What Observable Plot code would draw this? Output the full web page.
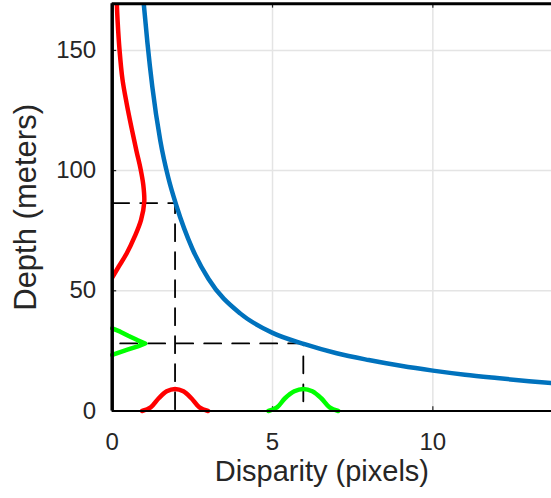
<!DOCTYPE html>
<html>
<head>
<meta charset="utf-8">
<script src="https://cdn.jsdelivr.net/npm/d3@7"></script>
<script src="https://cdn.jsdelivr.net/npm/@observablehq/plot@0.6"></script>
<style>
  html, body { margin: 0; padding: 0; background: #fff; }
</style>
</head>
<body>
<div id="chart"></div>
<script>
// Axis ticks
const xTicks = [0, 5, 10];
const yTicks = [0, 50, 100, 150];
const xLabel = "Disparity (pixels)";
const yLabel = "Depth (meters)";

// Blue depth-vs-disparity curve
const curveD = [0.98, 1.1, 1.25, 1.5, 1.75, 2, 2.5, 3, 4, 5, 6, 7, 8, 9, 10, 11, 12, 13, 13.7];
const curveZ = [170, 153, 135, 112.5, 97, 85.5, 67.5, 55, 40.5, 32.5, 27.8, 24, 21.2, 18.8, 16.8, 15.1, 13.7, 12.4, 11.6];

// Disparity distributions on the x axis (red around 2, green around 6)
const redBottomD = [0.93, 1.2, 1.45, 1.7, 1.96, 2.22, 2.47, 2.72, 2.99];
const redBottomP = [0, 1.5, 5.3, 8.2, 9.2, 8.2, 5.3, 1.5, 0];
const greenBottomD = [4.87, 5.14, 5.39, 5.68, 5.96, 6.24, 6.52, 6.78, 7.05];
const greenBottomP = [0, 1.5, 5.3, 8.2, 9.2, 8.2, 5.3, 1.5, 0];

// Depth distributions on the y axis
const redLeftZ = [55.5, 60, 65.5, 72.5, 79.5, 87, 94, 101, 108, 118, 128, 138, 150, 162, 171];
const redLeftP = [0, 0.2, 0.45, 0.7, 0.9, 1.0, 0.97, 0.88, 0.76, 0.6, 0.45, 0.32, 0.23, 0.17, 0.14];
const greenLeftZ = [23.3, 24.5, 25.6, 26.9, 28.1, 29.4, 31.3, 33.0, 34.4];
const greenLeftP = [0, 0.25, 0.5, 0.8, 1.03, 0.8, 0.5, 0.25, 0];

// Dashed guide lines: [disparity, depth]
const guides = [
  {d: 1.96, z: 86.5, offset: 0},
  {d: 5.96, z: 28.1, offset: 20}
];

const zip = (xs, ys) => xs.map((x, i) => ({x, y: ys[i]}));
const blue = zip(curveD, curveZ);
const redB = zip(redBottomD, redBottomP);
const greenB = zip(greenBottomD, greenBottomP);
const redL = zip(redLeftP, redLeftZ);
const greenL = zip(greenLeftP, greenLeftZ);

const font = "'Liberation Sans', Arial, Helvetica, sans-serif";
const txt = "#262626";

const plot = Plot.plot({
  width: 551,
  height: 498,
  marginLeft: 111.7,
  marginRight: 0,
  marginTop: 3.3,
  marginBottom: 87.5,
  style: {fontFamily: font, fontSize: "24px", color: txt, background: "#fff", overflow: "visible"},
  x: {domain: [0, 13.7]},
  y: {domain: [0, 169.4]},
  marks: [
    Plot.ruleX(xTicks.filter(t => t > 0), {stroke: "#e4e4e4", strokeWidth: 1.5}),
    Plot.ruleY(yTicks.filter(t => t > 0), {stroke: "#e4e4e4", strokeWidth: 1.5}),
    // inward ticks
    Plot.ruleX(xTicks, {y1: 0, y2: 1.8, stroke: "#262626", strokeWidth: 1.2}),
    Plot.ruleX(xTicks, {y1: 169.4, y2: 167.6, stroke: "#262626", strokeWidth: 1.2}),
    Plot.ruleY(yTicks, {x1: 0, x2: 0.14, stroke: "#262626", strokeWidth: 1.2}),
    // dashed guides
    ...guides.map(g => Plot.line([{x: 0, y: g.z}, {x: g.d, y: g.z}, {x: g.d, y: 0}], {
      x: "x", y: "y", stroke: "#000", strokeWidth: 1.8, strokeDasharray: "17,11", strokeDashoffset: g.offset
    })),
    Plot.line(blue, {x: "x", y: "y", stroke: "#0072BD", strokeWidth: 4.5, curve: "monotone-x", clip: true}),
    Plot.line(redB, {x: "x", y: "y", stroke: "#ff0000", strokeWidth: 4.5, curve: "catmull-rom"}),
    Plot.line(greenB, {x: "x", y: "y", stroke: "#00ff00", strokeWidth: 4.5, curve: "catmull-rom"}),
    Plot.line(redL, {x: "x", y: "y", stroke: "#ff0000", strokeWidth: 4.5, curve: "catmull-rom", clip: true}),
    Plot.line(greenL, {x: "x", y: "y", stroke: "#00ff00", strokeWidth: 4.5, curve: "linear"}),
    // axes lines / frame
    Plot.ruleY([0], {stroke: "#000", strokeWidth: 2}),
    Plot.ruleY([169.4], {stroke: "#000", strokeWidth: 3}),
    Plot.ruleX([0], {stroke: "#000", strokeWidth: 3.5}),
    Plot.axisX({ticks: xTicks, tickSize: 0, tickPadding: 22, label: null, fill: txt, fontSize: 24}),
    Plot.axisY({ticks: yTicks, tickSize: 0, tickPadding: 16, label: null, fill: txt, fontSize: 24}),
    Plot.text([xLabel], {frameAnchor: "bottom", dx: -10, dy: 70, lineAnchor: "bottom", fontSize: 29, fill: txt}),
    Plot.text([yLabel], {frameAnchor: "left", dx: -86, textAnchor: "middle", rotate: -90, fontSize: 31, fill: txt})
  ]
});
document.getElementById("chart").appendChild(plot);
</script>
</body>
</html>
